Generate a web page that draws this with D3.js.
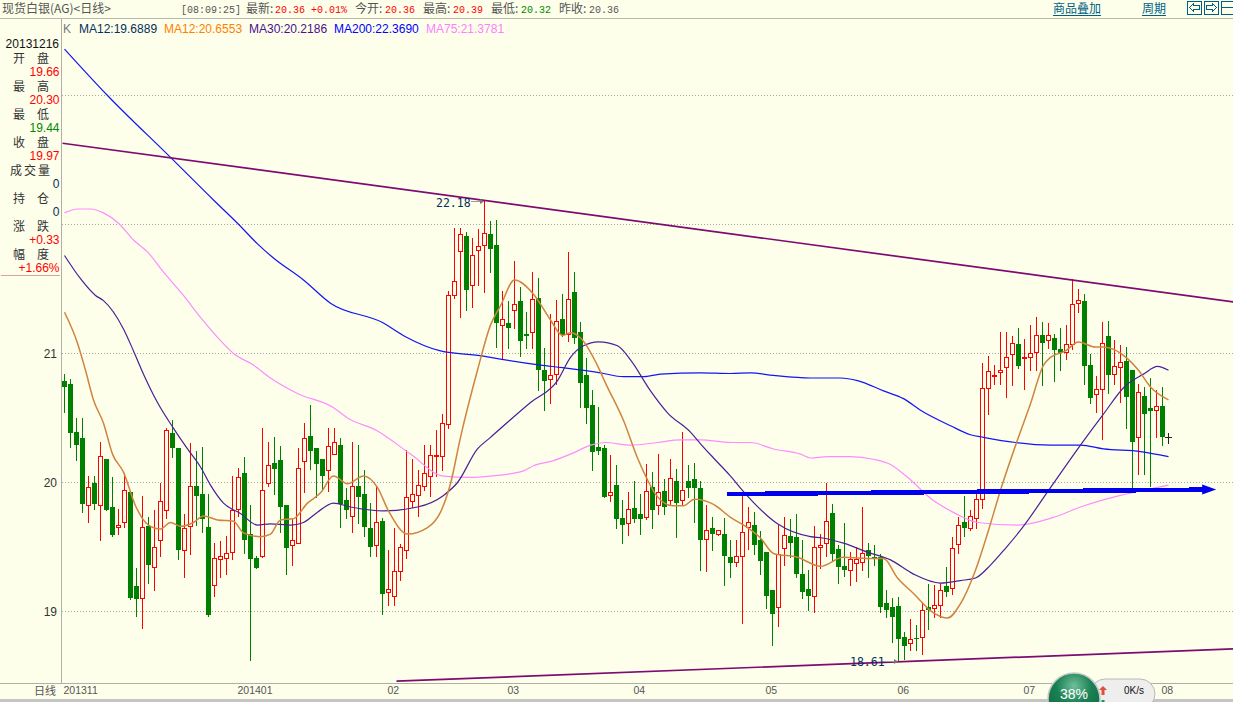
<!DOCTYPE html>
<html><head><meta charset="utf-8">
<script src="https://cdn.jsdelivr.net/npm/d3@7"></script>
<style>
html,body{margin:0;padding:0;background:#fdffeb;overflow:hidden}
svg{display:block}
text{font-family:"Liberation Sans","Noto Sans CJK SC",sans-serif}
.cjk{font-family:"Noto Sans CJK SC","Liberation Sans",sans-serif}
.mono{font-family:"Liberation Mono",monospace}
</style></head><body>
<svg id="c" width="1233" height="702"></svg>
<script>
const opens=[20.78,20.76,20.39,20.34,19.82,19.99,19.82,20.18,19.81,19.65,
19.69,19.92,19.19,19.10,19.66,19.34,19.55,19.78,20.38,20.26,
19.47,19.66,19.97,19.91,19.65,19.20,19.40,19.41,19.46,19.79,
20.07,19.60,19.41,19.43,19.99,20.15,20.17,19.82,19.51,19.53,
20.16,20.36,20.26,20.18,20.09,20.22,20.29,19.86,19.74,19.97,
19.91,19.64,19.51,19.70,19.15,19.12,19.31,19.47,19.85,19.90,
19.97,20.05,20.20,20.20,20.45,21.45,21.79,21.91,21.53,21.80,
21.84,21.92,21.84,21.22,21.23,21.33,21.40,21.15,21.16,21.43,
20.87,20.80,20.84,21.26,21.15,21.47,21.16,20.83,20.60,20.27,
20.26,19.90,19.98,19.72,19.68,19.80,19.75,19.73,19.96,19.82,
19.93,19.86,20.01,19.86,20.01,20.02,19.95,19.56,19.64,19.60,
19.60,19.42,19.38,19.43,19.65,19.67,19.55,19.46,19.16,19.03,
19.49,19.58,19.57,19.29,19.17,19.12,19.50,19.53,19.76,19.48,
19.35,19.32,19.37,19.38,19.47,19.42,19.42,19.06,19.03,19.04,
18.80,18.75,18.79,18.80,19.03,19.02,19.05,19.19,19.18,19.52,
19.69,19.64,19.72,19.87,20.73,20.82,20.85,20.89,20.99,21.07,
20.96,20.97,21.01,21.14,21.10,21.12,21.03,21.01,21.07,21.39,
21.40,20.91,20.68,20.72,21.13,20.84,20.89,20.94,20.87,20.35,
20.67,20.57,20.56,20.59];
const highs=[20.84,20.80,20.50,20.50,20.05,20.05,20.31,20.18,20.04,19.79,
20.07,19.92,19.33,19.89,19.73,19.78,19.99,20.42,20.48,20.26,
19.75,20.30,20.24,20.27,19.91,19.53,19.54,19.58,20.05,20.11,
20.19,19.82,19.43,20.42,20.31,20.35,20.28,19.82,19.71,20.26,
20.46,20.60,20.26,20.18,20.42,20.42,20.34,19.95,20.31,20.29,
20.09,19.84,19.97,19.72,19.47,19.64,19.52,20.25,20.18,20.09,
20.29,20.29,20.40,20.53,21.48,21.97,21.97,21.94,21.89,21.96,
22.18,22.02,22.03,21.48,21.40,21.71,21.51,21.32,21.63,21.58,
21.04,21.30,21.41,21.46,21.78,21.63,21.24,20.96,20.71,20.58,
20.29,20.21,20.13,19.86,19.92,20.01,19.91,20.14,20.08,20.22,
20.02,20.18,20.10,20.39,20.13,20.15,20.01,19.82,19.73,19.63,
19.72,19.55,19.55,19.90,19.81,19.77,19.62,19.46,19.16,19.67,
19.73,19.71,19.75,19.55,19.32,19.66,19.60,19.99,19.83,19.51,
19.68,19.46,19.50,19.81,19.53,19.51,19.44,19.16,19.10,19.11,
18.84,18.94,18.89,19.07,19.21,19.20,19.22,19.34,19.57,19.73,
19.89,19.78,19.94,20.92,20.98,20.91,21.16,21.16,21.13,21.19,
21.11,21.22,21.28,21.24,21.23,21.15,21.19,21.22,21.57,21.50,
21.46,20.99,20.82,21.24,21.25,21.10,21.06,21.05,20.87,20.76,
20.74,20.81,20.71,20.74];
const lows=[20.54,20.27,20.17,19.77,19.69,19.79,19.55,19.78,19.58,19.60,
19.65,19.09,18.96,18.87,19.22,19.16,19.43,19.72,20.19,19.40,
19.26,19.44,19.67,19.61,18.96,19.12,19.26,19.29,19.40,19.74,
19.45,18.62,19.33,19.42,19.97,19.91,19.61,19.29,19.36,19.53,
19.92,20.10,19.88,19.94,19.93,20.22,19.65,19.72,19.61,19.68,
19.58,19.43,19.43,18.98,19.05,19.05,19.24,19.41,19.81,19.74,
19.94,19.89,20.05,20.09,20.42,21.43,21.28,21.33,21.36,21.53,
21.47,21.63,21.05,20.96,21.04,21.19,20.98,21.04,21.04,20.71,
20.56,20.61,20.76,21.13,21.09,21.08,20.58,20.46,20.09,20.22,
19.88,19.85,19.64,19.53,19.59,19.69,19.60,19.71,19.64,19.75,
19.75,19.82,19.57,19.83,19.88,19.69,19.32,19.31,19.47,19.59,
19.20,19.26,19.35,18.91,19.48,19.44,19.29,19.02,18.74,18.88,
19.36,19.42,19.26,19.10,19.01,18.99,19.33,19.43,19.39,19.22,
19.27,19.20,19.23,19.32,19.26,19.36,18.99,18.95,18.76,18.61,
18.63,18.70,18.70,18.67,18.86,18.95,18.95,19.12,19.13,19.45,
19.58,19.63,19.64,19.80,20.53,20.76,20.76,20.66,20.75,20.88,
20.72,20.87,20.87,20.75,21.04,20.78,20.87,20.95,21.03,21.32,
20.76,20.61,20.54,20.33,20.69,20.76,20.62,20.42,19.94,20.06,
20.06,19.97,20.35,20.29];
const closes=[20.74,20.38,20.29,19.83,19.96,19.83,20.20,19.78,19.59,19.67,
19.94,19.10,19.09,19.65,19.36,19.50,19.85,20.40,20.26,19.47,
19.64,19.97,19.89,19.71,18.97,19.41,19.43,19.45,19.78,20.04,
19.55,19.40,19.33,19.94,20.13,20.10,19.81,19.49,19.55,20.11,
20.34,20.24,20.14,20.05,20.28,20.31,19.83,19.78,19.97,19.88,
19.65,19.50,19.69,19.13,19.17,19.31,19.50,19.88,19.91,19.98,
20.07,20.21,20.21,20.46,21.45,21.56,21.92,21.49,21.76,21.83,
21.93,21.81,21.23,21.26,21.19,21.38,21.09,21.13,21.42,20.87,
20.78,20.83,21.25,21.14,21.42,21.12,20.77,20.57,20.23,20.24,
19.88,19.92,19.71,19.67,19.79,19.71,19.71,19.93,19.78,19.92,
19.81,20.03,19.84,19.94,19.95,19.95,19.55,19.63,19.60,19.63,
19.43,19.37,19.43,19.61,19.69,19.51,19.39,19.12,18.98,19.44,
19.59,19.53,19.29,19.15,19.12,19.50,19.51,19.70,19.44,19.34,
19.32,19.40,19.40,19.45,19.43,19.40,19.03,19.01,18.95,18.78,
18.73,18.78,18.78,19.01,19.01,19.05,19.16,19.15,19.49,19.67,
19.64,19.74,19.87,20.73,20.86,20.83,20.87,20.97,21.08,20.90,
20.97,21.00,21.14,21.08,21.14,21.02,21.00,21.07,21.38,21.41,
20.90,20.65,20.72,21.08,20.83,20.90,20.93,20.66,20.31,20.70,
20.53,20.55,20.59,20.35];

/* moving averages: [candle index, price] */
const ma200=[[0,23.36],[7.17,23],[17.67,22.52],[24.83,22.19],[28.83,22.01],[32.17,21.85],[34.83,21.74],[39.83,21.57],[44.33,21.39],[53,21.24],[56.83,21.13],[62.67,21.02],[69.83,20.98],[71,20.97],[79.33,20.91],[83,20.89],[89.33,20.85],[93.17,20.82],[96.5,20.82],[99.33,20.84],[106,20.85],[111,20.845],[114.33,20.85],[118.17,20.83],[124.33,20.81],[129.33,20.81],[132.17,20.79],[136.5,20.71],[139.83,20.65],[142.67,20.56],[147.67,20.44],[151,20.37],[153.17,20.35],[158.5,20.31],[164.33,20.29],[169.33,20.29],[173.17,20.26],[179.33,20.24],[184,20.2]];
const ma30=[[0,21.76],[2.67,21.58],[5.17,21.45],[6.5,21.41],[9.83,21.19],[11.5,21.02],[13.17,20.84],[15.5,20.62],[18.17,20.42],[20.5,20.26],[22.67,20.12],[24.33,19.98],[26.5,19.84],[29.33,19.76],[32.17,19.67],[34.33,19.68],[37.67,19.67],[39.83,19.69],[42.17,19.77],[44.83,19.84],[47.67,19.81],[53.17,19.78],[58.83,19.81],[63.17,19.9],[65.5,20],[68.83,20.26],[71,20.35],[77.67,20.62],[82.17,20.79],[84.33,20.97],[86.5,21.06],[89,21.09],[92.17,21.06],[94.33,20.95],[97.67,20.71],[100.5,20.54],[104.33,20.39],[106,20.3],[108.17,20.19],[111,20.05],[113.17,19.93],[118.83,19.68],[124.33,19.58],[126.33,19.57],[129.83,19.53],[133.83,19.46],[137.67,19.4],[141.5,19.29],[146,19.22],[149.33,19.24],[151.83,19.26],[154.33,19.36],[156.83,19.49],[159.33,19.63],[164.33,19.96],[169.33,20.29],[173,20.52],[176.83,20.75],[179.83,20.84],[182.17,20.9],[184,20.87]];
const ma12=[[0,21.32],[2.17,21.08],[3.5,20.87],[4.83,20.64],[6.5,20.46],[8,20.22],[9.83,20.08],[11.83,19.82],[14,19.67],[16,19.64],[17.67,19.69],[19.33,19.66],[21.5,19.69],[23.17,19.74],[25.5,19.71],[28.17,19.7],[29.83,19.61],[32.67,19.58],[34.33,19.6],[36,19.71],[38.17,19.72],[40.5,19.84],[42.67,19.92],[44.83,20.05],[47.17,19.99],[49.83,20.05],[52.17,19.96],[54,19.78],[57.17,19.6],[60.5,19.65],[62.67,19.77],[64.33,19.99],[66,20.35],[68.83,20.87],[71,21.22],[72.67,21.37],[75,21.57],[78.17,21.46],[81,21.26],[83,21.14],[84.33,21.16],[86,21.12],[89,20.89],[90.17,20.77],[93.17,20.48],[95.5,20.19],[97.17,20.02],[98.5,19.91],[101.33,19.82],[103.17,19.82],[105,19.87],[108.17,19.83],[111,19.73],[113.83,19.65],[116,19.57],[118.17,19.45],[122.17,19.42],[126,19.35],[129.83,19.42],[134.83,19.41],[136.5,19.41],[138.83,19.26],[141.5,19.14],[144.83,18.99],[147.17,18.95],[149.33,19.06],[151.83,19.32],[154,19.63],[156,19.94],[158.83,20.33],[161,20.61],[163.17,20.91],[164.33,20.97],[166.83,21.02],[169,21.09],[171.83,21.05],[173.17,21.05],[177.17,20.96],[179,20.87],[181,20.74],[184,20.64]];
const ma75=[[0,22.09],[2.17,22.12],[4.33,22.12],[6.5,22.09],[9,22.01],[11.5,21.88],[14,21.78],[16,21.66],[19.83,21.45],[22.67,21.28],[26,21.1],[28.17,21],[31.5,20.91],[34.33,20.81],[38.83,20.69],[44.83,20.58],[47.17,20.5],[52.17,20.4],[57.67,20.22],[63.17,20.05],[67.67,20.04],[71,20.05],[76.5,20.09],[78.17,20.13],[81.5,20.17],[84.83,20.23],[87.67,20.29],[90.17,20.31],[94.33,20.29],[98.83,20.31],[102.67,20.33],[106,20.33],[111,20.31],[114.33,20.31],[118.17,20.26],[122.67,20.22],[124.33,20.19],[127.17,20.2],[131,20.2],[134.83,20.18],[137.67,20.14],[140.5,20.04],[144.83,19.86],[147.67,19.78],[149.33,19.74],[152.17,19.69],[158.83,19.67],[164.83,19.73],[169.33,19.81],[176,19.9],[181,19.95],[184,19.98]];

const trendUpper=[[-0.33,22.63],[194.83,21.40]];
const trendLower=[[55.33,18.46],[194.83,18.71]];
const arrowLine=[[110.5,19.91],[190.2,19.945]];

const xTickIndex=[0,29,54,74,95,117,139,160,183];
const xTickLabels=["201311","201401","02","03","04","05","06","07","08"];
const gridPrices=[19,20,21,22,23];
const priceLabels=[19,20,21];

const legendNames=["MA12:19.6889","MA12:20.6553","MA30:20.2186","MA200:22.3690","MA75:21.3781"];
const legendColors=["#04305c","#ff8000","#4a1090","#0000ff","#ff80ff"];
const legendX=[79,164,249,334,426];

const panelLabels=["开　盘","最　高","最　低","收　盘","成交量","持　仓","涨　跌","幅　度"];
const panelValues=["19.66","20.30","19.44","19.97","0","0","+0.33","+1.66%"];
const panelColors=["#f00","#f00","#080","#f00","#04305c","#04305c","#f00","#f00"];

const BG="#fdffeb", RED="#ff0000", GREEN="#008000";
const svg=d3.select("#c");
svg.append("rect").attr("width",1233).attr("height",702).attr("fill",BG);

const x=d3.scaleLinear().domain([0,183]).range([64,1162]);
const y=d3.scaleLinear().domain([19,22]).range([611,224]);
const px=i=>Math.round(x(i));
const py=v=>Math.round(y(v));

svg.append("defs").append("clipPath").attr("id","plot").append("rect")
  .attr("x",62).attr("y",19).attr("width",1171).attr("height",664);

/* grid */
const grid=svg.append("g").attr("transform","translate(62,0)")
  .call(d3.axisRight(y).tickValues(gridPrices).tickSize(1171).tickFormat(""));
grid.select(".domain").remove();
grid.selectAll("line").attr("stroke","#a8a8a0").attr("stroke-dasharray","1,2").attr("shape-rendering","crispEdges");

const plot=svg.append("g").attr("clip-path","url(#plot)");

/* candles */
const rows=d3.range(opens.length).map(i=>({i,o:opens[i],h:highs[i],l:lows[i],c:closes[i],up:closes[i]>=opens[i]}));
const g=plot.append("g").attr("shape-rendering","crispEdges");
g.selectAll("line").data(rows).join("line")
  .attr("x1",d=>px(d.i)+0.5).attr("x2",d=>px(d.i)+0.5)
  .attr("y1",d=>py(d.h)).attr("y2",d=>py(d.l)+1)
  .attr("stroke",d=>d.up?RED:GREEN);
g.selectAll("rect").data(rows).join("rect")
  .attr("x",d=>d.up?px(d.i)-1.5:px(d.i)-2)
  .attr("width",d=>d.up?4:5)
  .attr("y",d=>{const t=py(Math.max(d.o,d.c));return d.up?t+0.5:t;})
  .attr("height",d=>{const t=py(Math.max(d.o,d.c)),b=py(Math.min(d.o,d.c));return Math.max(b-t,1);})
  .attr("fill",d=>d.up?BG:GREEN)
  .attr("stroke",d=>d.up?RED:"none");

/* lines */
const line=d3.line().x(d=>x(d[0])+0.5).y(d=>y(d[1])+0.5);
const smooth=d3.line().x(d=>x(d[0])+0.5).y(d=>y(d[1])+0.5).curve(d3.curveMonotoneX);
const seriesLines=[[ma200,"#1414f5",1.2],[ma75,"#ff8cff",1.2],[ma30,"#4a2096",1.2],[ma12,"#cf8440",1.5]];
seriesLines.forEach(([d,col,w])=>{
  plot.append("path").attr("d",smooth(d)).attr("fill","none").attr("stroke",col).attr("stroke-width",w);
});
[trendUpper,trendLower].forEach(d=>{
  plot.append("path").attr("d",line(d)).attr("fill","none").attr("stroke","#7f0a70").attr("stroke-width",1.7);
});
/* arrow */
plot.append("path").attr("d",line(arrowLine)).attr("fill","none").attr("stroke","#0000ee").attr("stroke-width",4.5).attr("shape-rendering","crispEdges");
const ax=x(arrowLine[1][0]), ay=y(arrowLine[1][1])+0.5;
plot.append("path").attr("d",`M${ax-3},${ay-5}L${ax+11},${ay}L${ax-3},${ay+5}Z`).attr("fill","#0000ee");

/* high / low annotations */
const idxHigh=highs.indexOf(d3.max(highs)), idxLow=lows.indexOf(d3.min(lows));
const note=(txt,tx,ty,i,v)=>{
  plot.append("line").attr("x1",tx+35).attr("x2",px(i)-1).attr("y1",py(v)+0.5).attr("y2",py(v)+0.5).attr("stroke","#999").attr("shape-rendering","crispEdges");
  plot.append("path").attr("d",`M${px(i)-4},${py(v)-2}L${px(i)},${py(v)+0.5}L${px(i)-4},${py(v)+3}Z`).attr("fill","#777");
  plot.append("text").attr("x",tx).attr("y",ty).text(txt).attr("font-size",11.5).attr("fill","#04305c")
    .style("font-family","'DejaVu Sans Mono',monospace");
};
note("22.18",436,207,idxHigh,highs[idxHigh]);
note("18.61",850,666,idxLow,lows[idxLow]);

/* cursor */
const cur=[183,closes[183]];
plot.append("path").attr("d",`M${px(cur[0])+6.5},${py(cur[1])-4}V${py(cur[1])+7}M${px(cur[0])+3},${py(cur[1])+0.5}H${px(cur[0])+10}`)
  .attr("stroke","#222").attr("fill","none").attr("shape-rendering","crispEdges");

/* left panel */
svg.append("rect").attr("x",0).attr("y",19).attr("width",61).attr("height",665).attr("fill",BG);
svg.append("line").attr("x1",61.5).attr("x2",61.5).attr("y1",19).attr("y2",684).attr("stroke","#b0b0a8").attr("stroke-width",1);
const yAx=svg.append("g").attr("transform","translate(61,0)")
  .call(d3.axisLeft(y).tickValues(priceLabels).tickSize(0).tickPadding(4).tickFormat(d3.format("d")));
yAx.select(".domain").remove();
yAx.selectAll("text").attr("fill","#333").attr("font-size",12).attr("dy","0.35em");

svg.append("text").attr("x",59).attr("y",48).attr("text-anchor","end").attr("font-size",12).attr("fill","#111").text("20131216");
panelLabels.forEach((t,k)=>{
  svg.append("text").attr("class","cjk").attr("x",31).attr("y",63+28*k).attr("text-anchor","middle")
    .attr("font-size",12).attr("fill","#333").style("letter-spacing",k===4?"2px":"0").text(t);
  svg.append("text").attr("x",59.5).attr("y",76+28*k).attr("text-anchor","end")
    .attr("font-size",12).attr("fill",panelColors[k]).text(panelValues[k]);
});
svg.append("line").attr("x1",1).attr("x2",60).attr("y1",275.5).attr("y2",275.5).attr("stroke","#e0a0a0");

/* legend */
svg.append("text").attr("x",63).attr("y",33).attr("font-size",12).attr("fill","#777").text("K");
legendNames.forEach((t,k)=>svg.append("text").attr("x",legendX[k]).attr("y",33).attr("font-size",12).attr("fill",legendColors[k]).text(t));

/* top bar */
svg.append("rect").attr("width",1233).attr("height",18).attr("fill",BG);
svg.append("line").attr("x1",0).attr("x2",1233).attr("y1",18.5).attr("y2",18.5).attr("stroke","#b8b8b0");
const topLabel=(t,xp)=>svg.append("text").attr("class","cjk").attr("x",xp).attr("y",13).attr("font-size",12).attr("fill","#555").text(t);
const topValue=(t,xp,col)=>svg.append("text").attr("class","mono").attr("x",xp).attr("y",13).attr("font-size",10).attr("fill",col).text(t);
topLabel("现货白银(AG)<日线>",2);
topValue("[08:09:25]",181,"#555");
topLabel("最新:",246); topValue("20.36",275,"#f00"); topValue("+0.01%",311,"#f00");
topLabel("今开:",355); topValue("20.36",385,"#f00");
topLabel("最高:",423); topValue("20.39",453,"#f00");
topLabel("最低:",491); topValue("20.32",521,"#080");
topLabel("昨收:",559); topValue("20.36",589,"#555");
const LINK="#005f87";
[["商品叠加",1053,1101],["周期",1142,1166]].forEach(([t,a,b])=>{
  svg.append("text").attr("class","cjk").attr("x",a).attr("y",13).attr("font-size",12).attr("fill",LINK).text(t);
  svg.append("line").attr("x1",a).attr("x2",b).attr("y1",15.5).attr("y2",15.5).attr("stroke",LINK);
});
const ic=svg.append("g").attr("fill","none").attr("stroke",LINK).attr("shape-rendering","crispEdges");
ic.append("rect").attr("x",1187.5).attr("y",1.5).attr("width",14).attr("height",12.5);
ic.append("rect").attr("x",1204.5).attr("y",1.5).attr("width",14).attr("height",12.5);
ic.append("rect").attr("x",1221.5).attr("y",1.5).attr("width",14).attr("height",12.5);
ic.append("path").attr("d","M1189.5,7.5L1193.5,3.5V5.5H1199.5V9.5H1193.5V11.5Z");
ic.append("path").attr("d","M1216.5,7.5L1212.5,3.5V5.5H1206.5V9.5H1212.5V11.5Z");
ic.append("path").attr("d","M1221.5,7.5H1233");

/* bottom axis */
svg.append("rect").attr("x",0).attr("y",684).attr("width",1233).attr("height",18).attr("fill",BG);
svg.append("line").attr("x1",0).attr("x2",1233).attr("y1",683.5).attr("y2",683.5).attr("stroke","#b0b0a8");
const xAx=svg.append("g").attr("transform","translate(0,684)")
  .call(d3.axisBottom(x).tickValues(xTickIndex).tickSize(0).tickPadding(3).tickFormat((d,k)=>xTickLabels[k]));
xAx.select(".domain").remove();
xAx.selectAll("text").attr("text-anchor","start").attr("font-size",10.5).attr("fill","#555").attr("dx","-1");
svg.append("text").attr("class","cjk").attr("x",34).attr("y",695).attr("font-size",11).attr("fill","#555").text("日线");
svg.append("rect").attr("x",0).attr("y",699).attr("width",1233).attr("height",3).attr("fill","#c4c4c4");

/* network widget */
const defs=svg.select("defs");
const rg=defs.append("radialGradient").attr("id","ball").attr("cx","50%").attr("cy","25%").attr("r","75%");
rg.append("stop").attr("offset","0").attr("stop-color","#6fc09a");
rg.append("stop").attr("offset","0.45").attr("stop-color","#1a7f52");
rg.append("stop").attr("offset","1").attr("stop-color","#0c6b40");
svg.append("rect").attr("x",1090).attr("y",679).attr("width",65).attr("height",30).attr("rx",15).attr("fill","#eeeeee").attr("stroke","#b8b8b8");
svg.append("circle").attr("cx",1074).attr("cy",699).attr("r",26).attr("fill","url(#ball)").attr("stroke","#c8c8c8").attr("stroke-width",1.5);
svg.append("text").attr("x",1074).attr("y",699).attr("text-anchor","middle").attr("font-size",14).attr("fill","#fff").text("38%");
svg.append("path").attr("d","M1103,686L1107,690H1104.5V695H1101.5V690H1099Z").attr("fill","#e0503c");
svg.append("text").attr("x",1144).attr("y",694).attr("text-anchor","end").attr("font-size",10).attr("fill","#111").text("0K/s");
svg.append("rect").attr("x",1101.5).attr("y",700).attr("width",3).attr("height",2).attr("fill","#1a9a50");
</script>
</body></html>
